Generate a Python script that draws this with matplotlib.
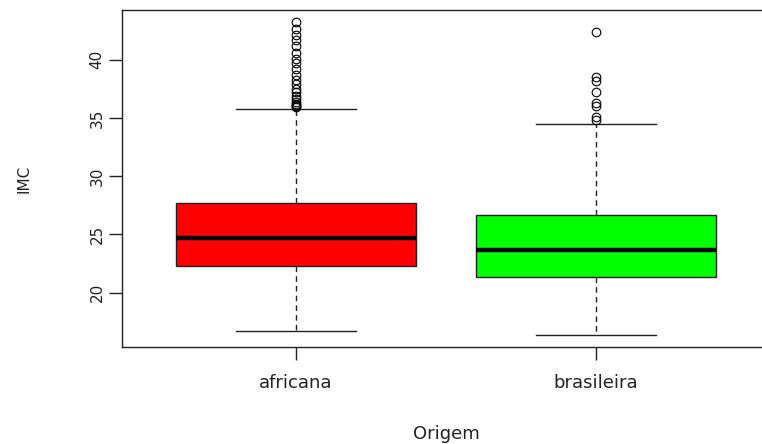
import matplotlib
matplotlib.use("Agg")
import matplotlib.pyplot as plt

# Box statistics (IMC by Origem)
groups = ["africana", "brasileira"]
box_colors = ["#ff0000", "#00ff00"]
q1 = [22.3, 21.35]
median = [24.65, 23.7]
q3 = [27.7, 26.65]
whisker_low = [16.7, 16.4]
whisker_high = [35.8, 34.45]
outliers_africana = [43.2, 42.6, 42.1, 41.7, 41.2, 40.6, 40.1, 39.7, 39.2, 38.7,
                     38.3, 37.9, 37.5, 37.2, 36.9, 36.6, 36.4, 36.2, 36.1, 36.0, 35.95]
outliers_brasileira = [42.35, 38.5, 38.2, 37.2, 36.3, 36.05, 35.1, 34.85]
yticks = [20, 25, 30, 35, 40]

stats = []
for i, name in enumerate(groups):
    stats.append({
        "label": name,
        "q1": q1[i], "med": median[i], "q3": q3[i],
        "whislo": whisker_low[i], "whishi": whisker_high[i],
        "fliers": [outliers_africana, outliers_brasileira][i],
    })

fig = plt.figure(figsize=(7.62, 4.44), dpi=100)
ax = fig.add_axes([122 / 762, 1 - 347 / 444, 648 / 762, 337 / 444])

bp = ax.bxp(stats, positions=[1, 2], widths=0.8, patch_artist=True,
            boxprops=dict(edgecolor="#222222", linewidth=1.0),
            medianprops=dict(color="black", linewidth=3.2, solid_capstyle="butt"),
            whiskerprops=dict(color="#222222", linewidth=1.0, linestyle=(0, (4, 3))),
            capprops=dict(color="#222222", linewidth=1.0),
            capwidths=0.4,
            flierprops=dict(marker="o", markersize=6.2, markerfacecolor="none",
                            markeredgecolor="black", markeredgewidth=0.8))
for patch, c in zip(bp["boxes"], box_colors):
    patch.set_facecolor(c)

# R-style limits: data range extended by 4 percent
lo, hi = min(whisker_low), max(outliers_africana + outliers_brasileira)
pad = (hi - lo) * 0.04
ax.set_ylim(lo - pad, hi + pad)
ax.set_xlim(0.5 - 0.08, 2.5 + 0.08)

ax.set_yticks(yticks)
ax.set_yticklabels([str(v) for v in yticks], rotation=90, va="center",
                   fontsize=11, color="#222222")
ax.set_xticks([1, 2])
ax.set_xticklabels(groups, fontsize=13, color="#222222")
ax.tick_params(axis="both", length=9.5, width=1.0, color="#222222")
ax.tick_params(axis="y", pad=3)
ax.tick_params(axis="x", pad=10)

for s in ax.spines.values():
    s.set_color("#222222")
    s.set_linewidth(1.0)

ax.set_xlabel("Origem", fontsize=13, color="#222222", labelpad=24)
ax.set_ylabel("IMC", fontsize=11, color="#222222", labelpad=42)

fig.savefig("out.png", dpi=100)
